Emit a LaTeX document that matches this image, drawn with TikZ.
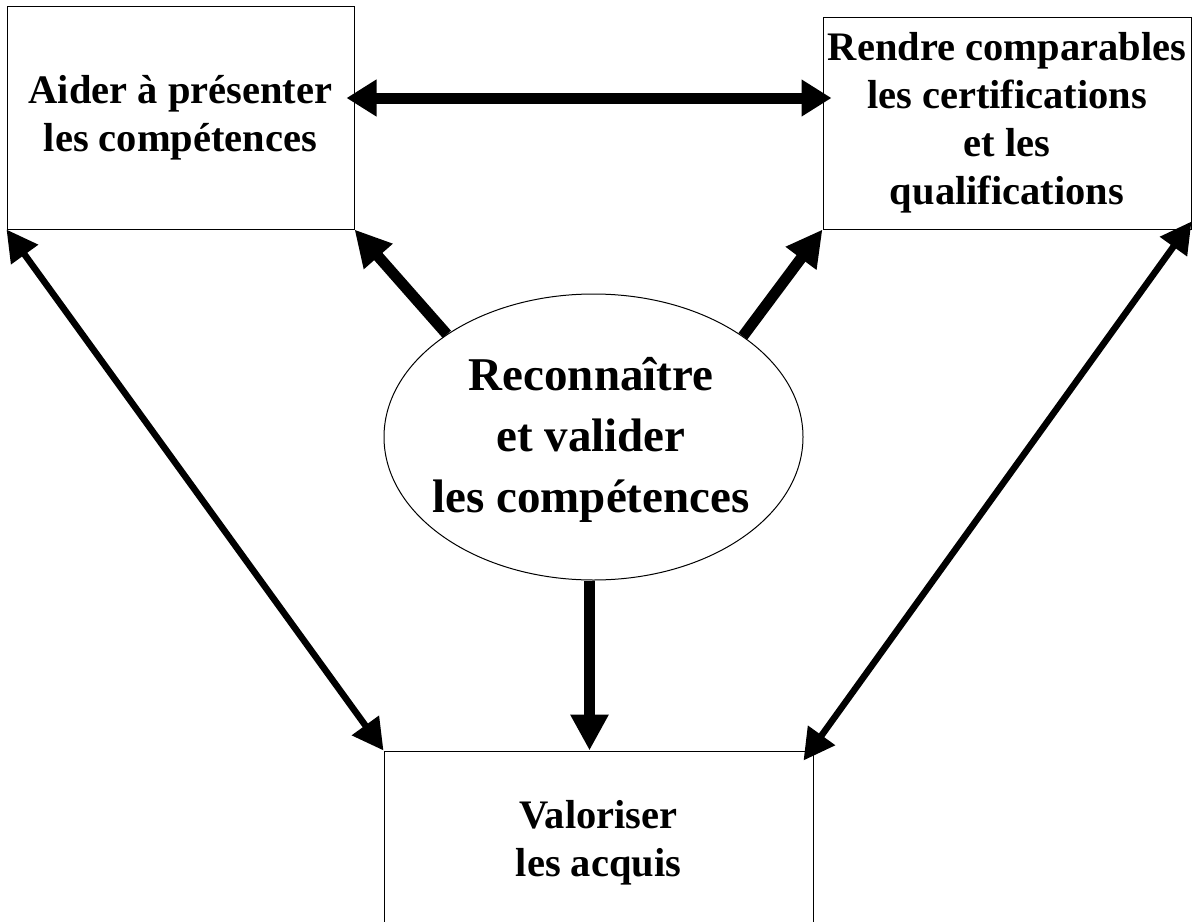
\documentclass[tikz,border=0pt]{standalone}
\usepackage{fontspec}
\setmainfont{Liberation Serif}
\usetikzlibrary{arrows.meta,shapes.geometric}
\tikzset{
  box/.style={draw=black, line width=1pt, rectangle, inner sep=0pt, align=center,
    font=\fontsize{40.5pt}{48pt}\selectfont\bfseries},
  oval/.style={draw=black, line width=1pt, ellipse, inner sep=0pt},
  ovaltext/.style={inner sep=0pt, align=center,
    font=\fontsize{47pt}{61pt}\selectfont\bfseries},
  bigarrow/.style={line width=11pt, -{Triangle[length=36pt,width=36pt]}},
  bigdouble/.style={line width=11pt, {Triangle[length=30pt,width=35pt]}-{Triangle[length=30pt,width=35pt]}},
  thindouble/.style={line width=6.5pt, {Triangle[length=31pt,width=32pt]}-{Triangle[length=31pt,width=32pt]}}
}
\begin{document}
\begin{tikzpicture}[x=1pt,y=-1pt]
\useasboundingbox (0,0) rectangle (1204,921);
\clip (0,0) rectangle (1204,921);
\fill[white] (0,0) rectangle (1204,921);
\node[box, minimum width=347pt, minimum height=223pt] (tl) at (180.5,117.5)
  {Aider à présenter\\les compétences};
\node[box, minimum width=368pt, minimum height=212pt] (tr) at (1007,123)
  {Rendre comparables\\les certifications\\et les\\qualifications};
\node[box, minimum width=429pt, minimum height=184pt] (bot) at (598.5,843)
  {Valoriser\\les acquis};
\node[oval, minimum width=419pt, minimum height=286pt] (el) at (593.5,437) {};
\node[ovaltext] (elt) at (591,440) {Reconnaître\\et valider\\les compétences};
\coordinate (hy) at (0,98);
\draw[bigdouble] ([xshift=-8pt]tl.east |- hy) -- ([xshift=9pt]tr.west |- hy);
\draw[bigarrow] (el.145) -- (tl.south east);
\draw[bigarrow] (el.34) -- (tr.south west);
\draw[bigarrow] ([xshift=-4pt]el.south) -- ([xshift=-4pt]el.south |- bot.north);
\draw[thindouble] (tl.south west) -- (bot.north west);
\draw[thindouble] ([yshift=8pt]tr.south east) -- ([xshift=-10pt,yshift=-10pt]bot.north east);
\end{tikzpicture}
\end{document}
